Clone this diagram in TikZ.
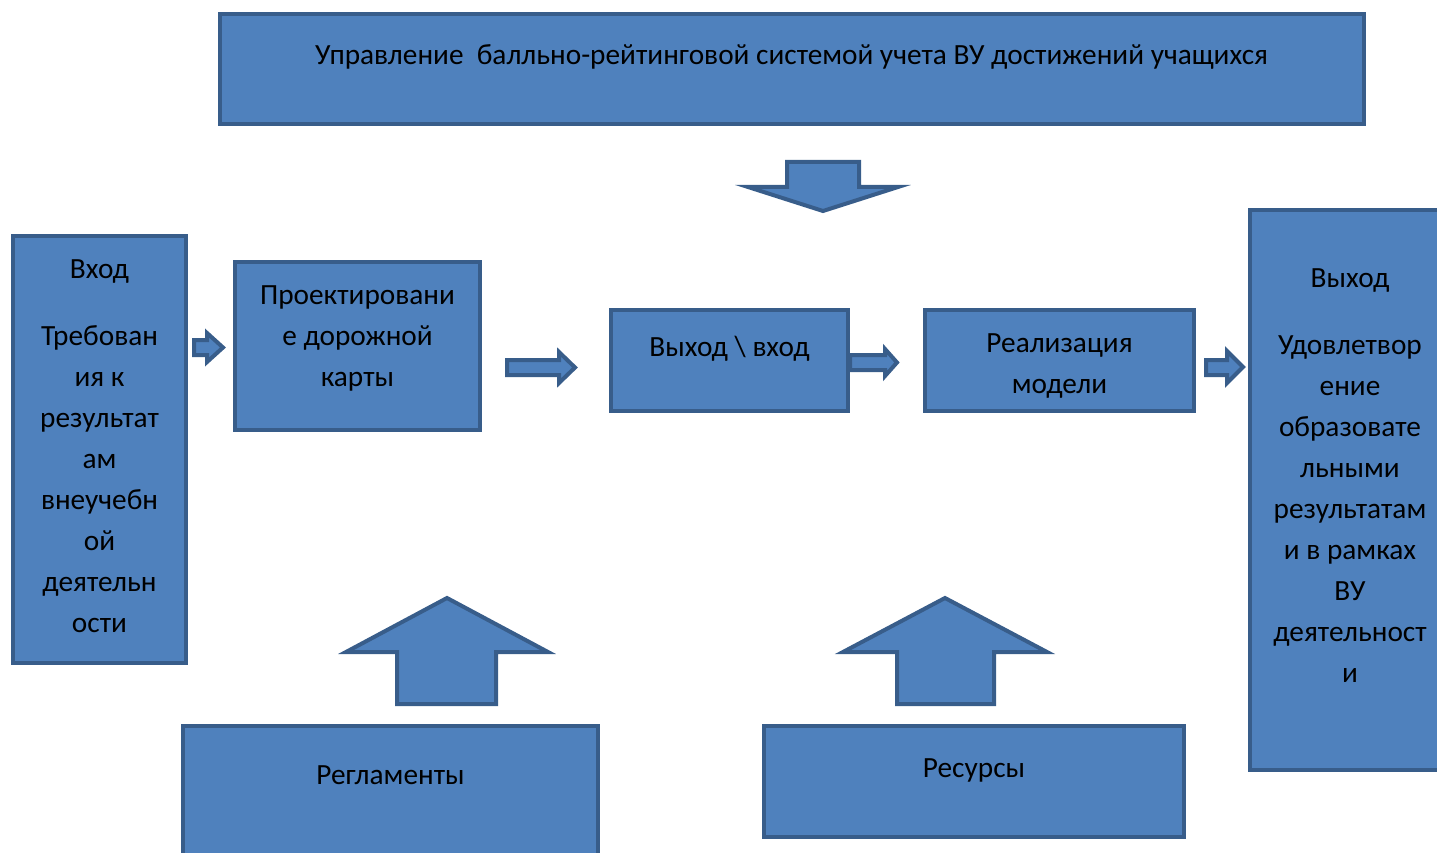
\documentclass[tikz,border=0pt]{standalone}
\usepackage{fontspec}
\setmainfont{Carlito}
\definecolor{boxfill}{HTML}{4F81BD}
\definecolor{boxline}{HTML}{385D8A}
\begin{document}
\begin{tikzpicture}[x=1pt,y=-1pt,
  blk/.style={draw=boxline,fill=boxfill,line width=4pt,inner sep=0pt},
  txt/.style={font=\fontsize{29.3}{41}\selectfont,align=center,text=black,inner sep=0pt},
  barrow/.style={draw=boxline,fill=boxfill,line width=4pt,line join=miter}]
\useasboundingbox (0,0) rectangle (1437,853);
% boxes
\node[blk,minimum width=1144pt,minimum height=110pt] (top) at (792,69) {};
\node[blk,minimum width=173pt,minimum height=427pt] (in) at (99.5,449.5) {};
\node[blk,minimum width=245pt,minimum height=168pt] (proj) at (357.5,346) {};
\node[blk,minimum width=237pt,minimum height=101pt] (io) at (729.5,360.5) {};
\node[blk,minimum width=269pt,minimum height=101pt] (real) at (1059.5,360.5) {};
\node[blk,minimum width=200pt,minimum height=560pt] (out) at (1350,490) {};
\node[blk,minimum width=415pt,minimum height=150pt] (reg) at (390.5,801) {};
\node[blk,minimum width=420pt,minimum height=111pt] (res) at (974,781.5) {};
% texts
\node[txt] (ttop) at (791.5,57) {Управление~ балльно-рейтинговой системой учета ВУ достижений учащихся};
\node[txt] (tin) at (99.5,446.5) {Вход\\[26pt]Требован\\ия к\\результат\\ам\\внеучебн\\ой\\деятельн\\ости};
\node[txt] (tproj) at (357.5,338) {Проектировани\\е дорожной\\карты};
\node[txt] (tio) at (729.5,349) {Выход \textbackslash{} вход};
\node[txt] (treal) at (1059.5,366) {Реализация\\модели};
\node[txt] (tout) at (1350,475.5) {Выход\\[26pt]Удовлетвор\\ение\\образовате\\льными\\результатам\\и в рамках\\ВУ\\деятельност\\и};
\node[txt] (treg) at (390.5,775) {Регламенты};
\node[txt] (tres) at (974,770) {Ресурсы};
% block arrows
\draw[barrow] (194,340) -- (207,340) -- (207,333) -- (223,347.5) -- (207,362) -- (207,355) -- (194,355) -- cycle;
\draw[barrow] (507,360) -- (559,360) -- (559,352) -- (575,367.5) -- (559,383) -- (559,375) -- (507,375) -- cycle;
\draw[barrow] (850,355) -- (885,355) -- (885,349) -- (897,362.5) -- (885,376) -- (885,370) -- (850,370) -- cycle;
\draw[barrow] (1206,360) -- (1227,360) -- (1227,351) -- (1243,367) -- (1227,383) -- (1227,375) -- (1206,375) -- cycle;
\draw[barrow] (787,162) -- (859,162) -- (859,187) -- (898,187) -- (823,211) -- (748,187) -- (787,187) -- cycle;
\draw[barrow] (397,704) -- (496,704) -- (496,652) -- (548,652) -- (447,598) -- (346,652) -- (397,652) -- cycle;
\draw[barrow] (897,704) -- (994,704) -- (994,652) -- (1047,652) -- (945,598) -- (843,652) -- (897,652) -- cycle;
\end{tikzpicture}
\end{document}
